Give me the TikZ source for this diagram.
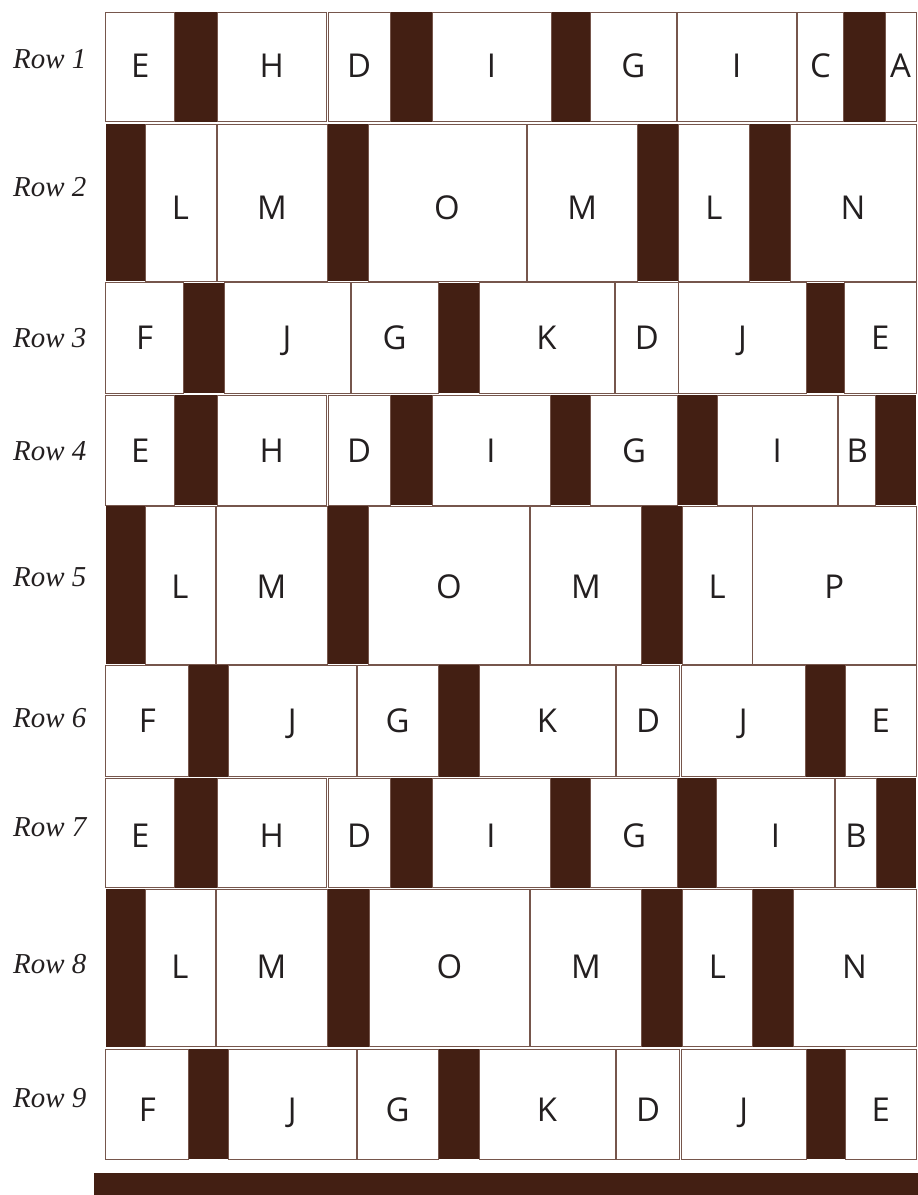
\documentclass[tikz,border=0pt]{standalone}
\usepackage{fontspec}
\setmainfont{Liberation Serif}
\newfontfamily\cellfont{Open Sans}
\definecolor{darkbrown}{RGB}{67,31,19}
\definecolor{edgebrown}{RGB}{118,86,76}
\definecolor{inkblack}{RGB}{35,31,32}
\newcommand\cellrow[6]{%
  \foreach \xa/\xb in {#6} {\fill[dcell] (\xa,#2) rectangle (\xb,#3);}
  \foreach \xa/\xb/\lt [count=\i] in {#5} {%
    \draw[wcell] (\xa,#2) rectangle (\xb,#3);
    \node[letter] (#1-\i) at ({(\xa+\xb)/2},#4) {\lt};}%
}
\begin{document}
\begin{tikzpicture}[x=1bp,y=-1bp,
  wcell/.style={draw=edgebrown,line width=1bp,fill=white},
  dcell/.style={fill=darkbrown},
  letter/.style={font=\cellfont\fontsize{33}{33}\selectfont,inner sep=0pt,anchor=base,text=inkblack},
  rowlbl/.style={font=\itshape\fontsize{29}{29}\selectfont,inner sep=0pt,anchor=base west,text=inkblack}]
\useasboundingbox (0,0) rectangle (918,1195);

\cellrow{r1}{12.3}{121.7}{77.5}
  {105.6/174.8/E, 217/326.7/H, 328.4/390/D, 432/551/I, 590.6/676/G, 677/796.5/I, 797.6/843.4/C, 885/916/A}
  {174.8/217, 390/432, 551/590.6, 843.4/885}
\cellrow{r2}{124}{281}{219.7}
  {145/216/L, 217/327/M, 368/526/O, 527/637.5/M, 678.6/749/L, 790/916/N}
  {105.6/145, 327/368, 637.5/678.6, 749/790}
\cellrow{r3}{282.5}{393}{349.7}
  {105.6/183.6/F, 224/350/J, 351/438/G, 479/614/K, 615/678.6/D, 678.6/806.5/J, 844.6/916/E}
  {183.6/224, 438/479, 806.5/844.6}
\cellrow{r4}{395}{505}{462}
  {105.6/174.8/E, 217/326.7/H, 328.4/390/D, 432/550/I, 590.6/677.4/G, 717.3/837/I, 838.7/875.7/B}
  {174.8/217, 390/432, 550/590.6, 677.4/717.3, 875.7/916}
\cellrow{r5}{506}{664}{598}
  {145/215/L, 216/327/M, 368/529.6/O, 530.8/641/M, 682/752.5/L, 752.5/916/P}
  {105.6/145, 327/368, 641/682}
\cellrow{r6}{665}{776.7}{732.5}
  {105.6/188.9/F, 228.7/356/J, 357/438/G, 479/615/K, 616.4/679.8/D, 681/805.3/J, 845.7/916/E}
  {188.9/228.7, 438/479, 805.3/845.7}
\cellrow{r7}{778.3}{887.7}{847.5}
  {105.6/174.8/E, 217/326.7/H, 328.4/390/D, 432/550/I, 590.6/677.4/G, 716.7/834/I, 835/876.8/B}
  {174.8/217, 390/432, 550/590.6, 677.4/716.7, 876.8/916}
\cellrow{r8}{889.3}{1046.7}{978.7}
  {145/215/L, 216/327/M, 369/529.6/O, 530.8/641/M, 682.7/752/L, 793/916/N}
  {105.6/145, 327/369, 641/682.7, 752/793}
\cellrow{r9}{1049}{1159.3}{1121.3}
  {105.6/188.9/F, 228.7/356/J, 357/438/G, 479/615/K, 616.4/679.8/D, 681/806.5/J, 845.7/916/E}
  {188.9/228.7, 438/479, 806.5/845.7}

\fill[darkbrown] (94,1173) rectangle (918,1195);

\node[rowlbl] (l1) at (13,68) {Row 1};
\node[rowlbl] (l2) at (13,196) {Row 2};
\node[rowlbl] (l3) at (13,347) {Row 3};
\node[rowlbl] (l4) at (13,460) {Row 4};
\node[rowlbl] (l5) at (13,586) {Row 5};
\node[rowlbl] (l6) at (13,727) {Row 6};
\node[rowlbl] (l7) at (13,836) {Row 7};
\node[rowlbl] (l8) at (13,973) {Row 8};
\node[rowlbl] (l9) at (13,1107) {Row 9};
\end{tikzpicture}
\end{document}
